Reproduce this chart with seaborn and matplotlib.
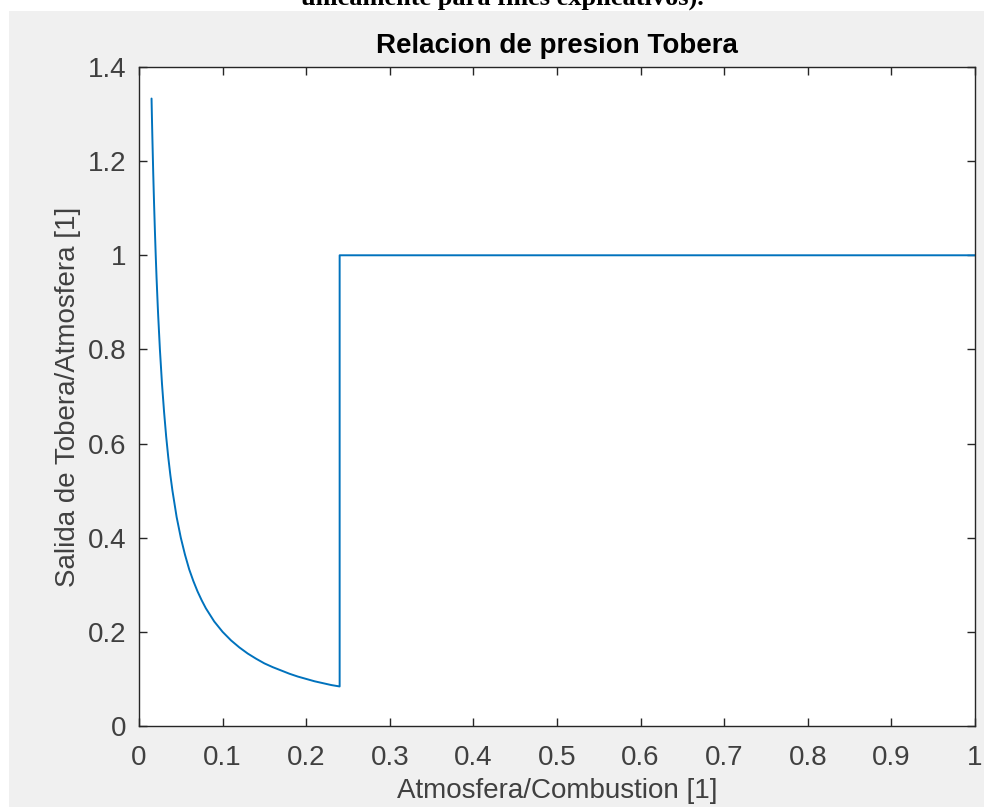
import matplotlib
matplotlib.use("Agg")
import matplotlib.pyplot as plt
from matplotlib.patches import Rectangle
import seaborn as sns
import pandas as pd

# Data
atm_comb = [0.0150, 0.0155, 0.0160, 0.0170, 0.0175, 0.0180, 0.0190, 0.0200, 0.0210,
            0.0225, 0.0230, 0.0250, 0.0275, 0.0300, 0.0325, 0.0350, 0.0375, 0.0400,
            0.0450, 0.0500, 0.0550, 0.0600, 0.0650, 0.0700, 0.0750, 0.0800, 0.0900,
            0.1000, 0.1100, 0.1200, 0.1300, 0.1400, 0.1500, 0.1600, 0.1700, 0.1800,
            0.1900, 0.2000, 0.2100, 0.2200, 0.2300, 0.2400, 0.2400, 1.0000]
salida_atm = [1.333, 1.290, 1.250, 1.176, 1.143, 1.111, 1.053, 1.000, 0.952,
              0.889, 0.870, 0.800, 0.727, 0.667, 0.615, 0.571, 0.533, 0.500,
              0.444, 0.400, 0.364, 0.333, 0.308, 0.286, 0.267, 0.250, 0.222,
              0.200, 0.182, 0.167, 0.154, 0.143, 0.133, 0.125, 0.118, 0.111,
              0.105, 0.100, 0.095, 0.091, 0.087, 0.084, 1.000, 1.000]
x_ticks = [0, 0.1, 0.2, 0.3, 0.4, 0.5, 0.6, 0.7, 0.8, 0.9, 1]
x_tick_labels = ["0", "0.1", "0.2", "0.3", "0.4", "0.5", "0.6", "0.7", "0.8", "0.9", "1"]
y_ticks = [0, 0.2, 0.4, 0.6, 0.8, 1.0, 1.2, 1.4]
y_tick_labels = ["0", "0.2", "0.4", "0.6", "0.8", "1", "1.2", "1.4"]

df = pd.DataFrame({"x": atm_comb, "y": salida_atm})

sns.set_theme(style="white")
plt.rcParams["font.family"] = ["Liberation Sans", "DejaVu Sans"]

W, H = 984, 807
fig = plt.figure(figsize=(W / 100, H / 100), dpi=100, facecolor="white")
# gray MATLAB figure background (with a thin white margin at left/top)
fig.patches.append(Rectangle((9 / W, 0), 1 - 9 / W, 1 - 11 / H, transform=fig.transFigure,
                             facecolor="#f0f0f0", edgecolor="none", zorder=-10))
# cropped caption text at the top of the image
fig.text(502 / W, 1 - 5 / H, "únicamente para fines explicativos).", ha="center", va="baseline",
         fontsize=19, fontweight="bold", family=["Liberation Serif", "DejaVu Serif"], color="black")

ax = fig.add_axes([139 / W, 1 - 726 / H, (975 - 139) / W, (726 - 67) / H])
ax.set_facecolor("white")

sns.lineplot(data=df, x="x", y="y", sort=False, estimator=None, ax=ax,
             color="#0072BD", linewidth=1.4)

ax.set_xlim(0, 1)
ax.set_ylim(0, 1.4)
ax.set_xticks(x_ticks)
ax.set_xticklabels(x_tick_labels)
ax.set_yticks(y_ticks)
ax.set_yticklabels(y_tick_labels)

tc = "#262626"
for s in ax.spines.values():
    s.set_visible(True)
    s.set_color(tc)
    s.set_linewidth(1.0)
ax.tick_params(direction="in", length=6, width=1.0, color=tc, labelcolor="#404040",
               labelsize=20, top=True, right=True, bottom=True, left=True)
ax.tick_params(axis="x", pad=14)
ax.tick_params(axis="y", pad=9)

ax.set_title("Relacion de presion Tobera", fontsize=20, fontweight="bold", color="black", pad=10)
ax.set_xlabel("Atmosfera/Combustion [1]", fontsize=20, color="#404040", labelpad=5)
ax.set_ylabel("Salida de Tobera/Atmosfera [1]", fontsize=20, color="#404040", labelpad=5)
ax.grid(False)

fig.savefig("out.png", dpi=100, facecolor=fig.get_facecolor())
